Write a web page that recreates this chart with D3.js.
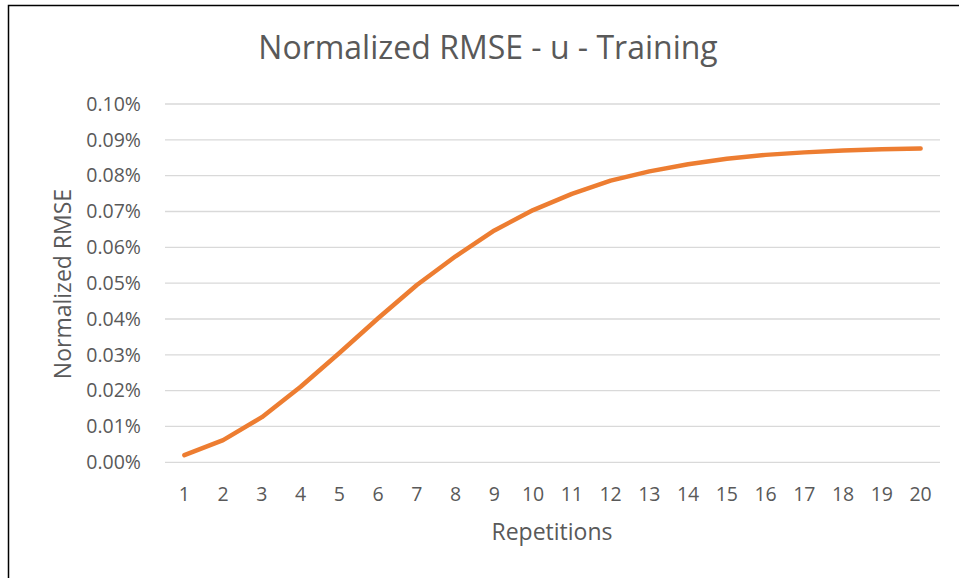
<!DOCTYPE html>
<html>
<head>
<meta charset="utf-8">
<script src="https://cdn.jsdelivr.net/npm/d3@7"></script>
<style>
  body { margin: 0; background: #fff; }
  text { font-family: "Open Sans", sans-serif; fill: #595959; }
</style>
</head>
<body>
<div id="chart"></div>
<script>
var repetitions = d3.range(1, 21);
var rmse_values = [0.0020, 0.0062, 0.0126, 0.0211, 0.0305, 0.0402, 0.0495, 0.0575, 0.0647, 0.0704,
                   0.0749, 0.0786, 0.0812, 0.0832, 0.0847, 0.0858, 0.0865, 0.0870, 0.0874, 0.0876];
var y_ticks = [0, 0.01, 0.02, 0.03, 0.04, 0.05, 0.06, 0.07, 0.08, 0.09, 0.10];
var title_text = "Normalized RMSE - u - Training";
var x_label = "Repetitions";
var y_label = "Normalized RMSE";

var width_chart = 959, height_chart = 578;
var left_plot = 165, right_plot = 940, top_plot = 104, bottom_plot = 462.3;

var svg = d3.select("#chart").append("svg")
  .attr("width", width_chart)
  .attr("height", height_chart);

// outer frame (top and left edges visible)
svg.append("path")
  .attr("d", "M8.5,578 L8.5,5.5 L959,5.5")
  .attr("fill", "none")
  .attr("stroke", "#000")
  .attr("stroke-width", 1.5);

var x = d3.scaleBand()
  .domain(repetitions)
  .range([left_plot, right_plot]);
var y = d3.scaleLinear()
  .domain([0, 0.10])
  .range([bottom_plot, top_plot]);

// gridlines
svg.append("g")
  .selectAll("line")
  .data(y_ticks)
  .enter().append("line")
  .attr("x1", left_plot)
  .attr("x2", right_plot)
  .attr("y1", function (d) { return y(d); })
  .attr("y2", function (d) { return y(d); })
  .attr("stroke", "#d9d9d9")
  .attr("stroke-width", 1.3);

// y axis (values are already in percent)
var y_axis = svg.append("g")
  .attr("transform", "translate(144,0)")
  .call(d3.axisLeft(y).tickValues(y_ticks).tickSize(0).tickFormat(function (d) { return d.toFixed(2) + "%"; }));
y_axis.select(".domain").remove();
y_axis.selectAll("text")
  .style("font-size", "19.5px")
  .style("fill", "#595959");

// x axis
var x_axis = svg.append("g")
  .attr("transform", "translate(0,484)")
  .call(d3.axisBottom(x).tickSize(0));
x_axis.select(".domain").remove();
x_axis.selectAll("text")
  .style("font-size", "19.5px")
  .style("fill", "#595959");

var line = d3.line()
  .x(function (d, i) { return x(repetitions[i]) + x.bandwidth() / 2; })
  .y(function (d) { return y(d); });

svg.append("path")
  .datum(rmse_values)
  .attr("d", line)
  .attr("fill", "none")
  .attr("stroke", "#ed7d31")
  .attr("stroke-width", 4.5)
  .attr("stroke-linecap", "round")
  .attr("stroke-linejoin", "round");

svg.append("text")
  .attr("x", 488)
  .attr("y", 59)
  .attr("text-anchor", "middle")
  .style("font-size", "32px")
  .text(title_text);

svg.append("text")
  .attr("x", 552)
  .attr("y", 540)
  .attr("text-anchor", "middle")
  .style("font-size", "23px")
  .text(x_label);

svg.append("text")
  .attr("transform", "translate(71,284) rotate(-90)")
  .attr("text-anchor", "middle")
  .style("font-size", "23px")
  .text(y_label);
</script>
</body>
</html>
